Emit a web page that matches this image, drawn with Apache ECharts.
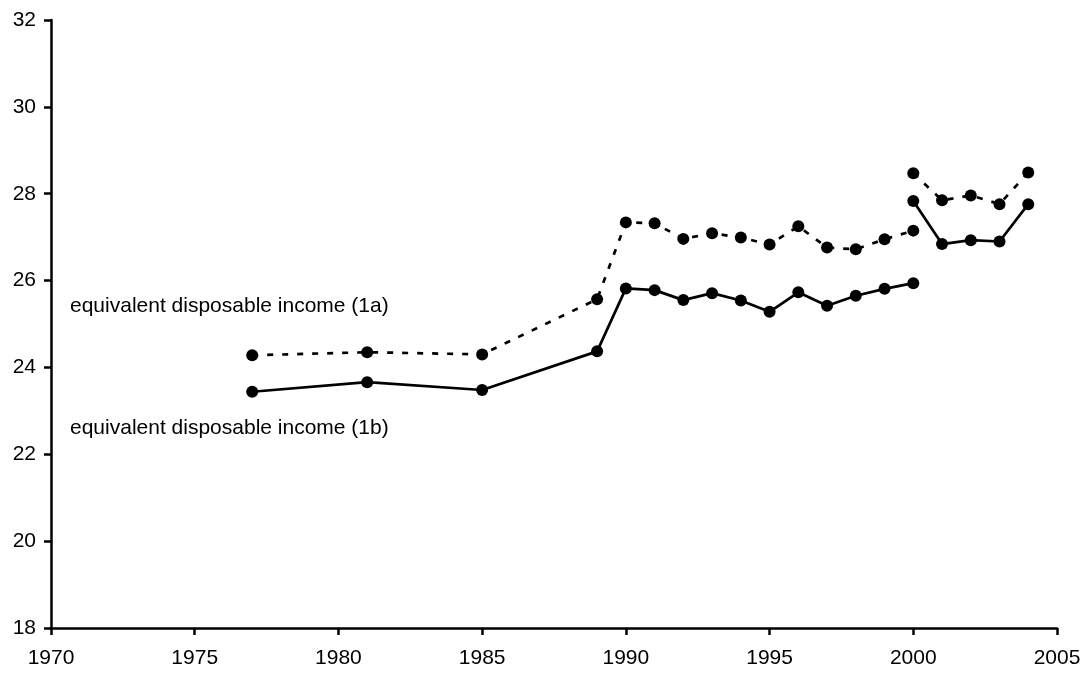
<!DOCTYPE html>
<html>
<head>
<meta charset="utf-8">
<script src="https://cdn.jsdelivr.net/npm/echarts@6/dist/echarts.min.js"></script>
<style>
html,body{margin:0;padding:0;background:#fff;}
#chart{width:1086px;height:673px;}
</style>
</head>
<body>
<div id="chart"></div>
<script>
// Data
const yearsEarly = [1977, 1981, 1985, 1989, 1990, 1991, 1992, 1993, 1994, 1995, 1996, 1997, 1998, 1999, 2000];
const yearsLate = [2000, 2001, 2002, 2003, 2004];
const income1aEarly = [24.28, 24.35, 24.30, 25.57, 27.34, 27.32, 26.96, 27.09, 26.99, 26.83, 27.25, 26.76, 26.72, 26.95, 27.15];
const income1aLate = [28.47, 27.85, 27.96, 27.76, 28.49];
const income1bEarly = [23.44, 23.66, 23.48, 24.37, 25.82, 25.78, 25.55, 25.71, 25.54, 25.28, 25.73, 25.42, 25.65, 25.81, 25.94];
const income1bLate = [27.83, 26.84, 26.93, 26.90, 27.76];
const label1a = 'equivalent disposable income (1a)';
const label1b = 'equivalent disposable income (1b)';

function pairs(xs, ys) { return xs.map((x, i) => [x, ys[i]]); }

const FONT = '"Liberation Sans", Arial, sans-serif';
const chart = echarts.init(document.getElementById('chart'), null, {renderer: 'canvas'});

function lineSeries(name, data, dashed) {
  return {
    name: name,
    type: 'line',
    data: data,
    symbol: 'circle',
    symbolSize: 12,
    showAllSymbol: true,
    itemStyle: {color: '#000'},
    lineStyle: {color: '#000', width: 2.7, type: dashed ? [6, 9] : 'solid'},
    emphasis: {disabled: true},
    animation: false
  };
}

chart.setOption({
  animation: false,
  backgroundColor: '#fff',
  grid: {left: 51, right: 29, top: 20, bottom: 45, containLabel: false},
  xAxis: {
    type: 'value', min: 1970, max: 2005, interval: 5,
    axisLine: {show: true, lineStyle: {color: '#000', width: 2.5}},
    axisTick: {show: true, length: 7, lineStyle: {color: '#000', width: 2.5}},
    axisLabel: {color: '#000', fontSize: 21, fontFamily: FONT, margin: 20, formatter: v => String(v)},
    splitLine: {show: false}
  },
  yAxis: {
    type: 'value', min: 18, max: 32, interval: 2,
    axisLine: {show: true, lineStyle: {color: '#000', width: 2.5}},
    axisTick: {show: true, length: 7, lineStyle: {color: '#000', width: 2.5}},
    axisLabel: {color: '#000', fontSize: 21, fontFamily: FONT, margin: 15, formatter: v => String(v)},
    splitLine: {show: false}
  },
  series: [
    lineSeries('1a', pairs(yearsEarly, income1aEarly), true),
    lineSeries('1a late', pairs(yearsLate, income1aLate), true),
    lineSeries('1b', pairs(yearsEarly, income1bEarly), false),
    lineSeries('1b late', pairs(yearsLate, income1bLate), false)
  ],
  graphic: [
    {type: 'text', left: 70, top: 296, style: {text: label1a, fill: '#000', font: '21px ' + FONT}},
    {type: 'text', left: 70, top: 418, style: {text: label1b, fill: '#000', font: '21px ' + FONT}}
  ]
});
</script>
</body>
</html>
